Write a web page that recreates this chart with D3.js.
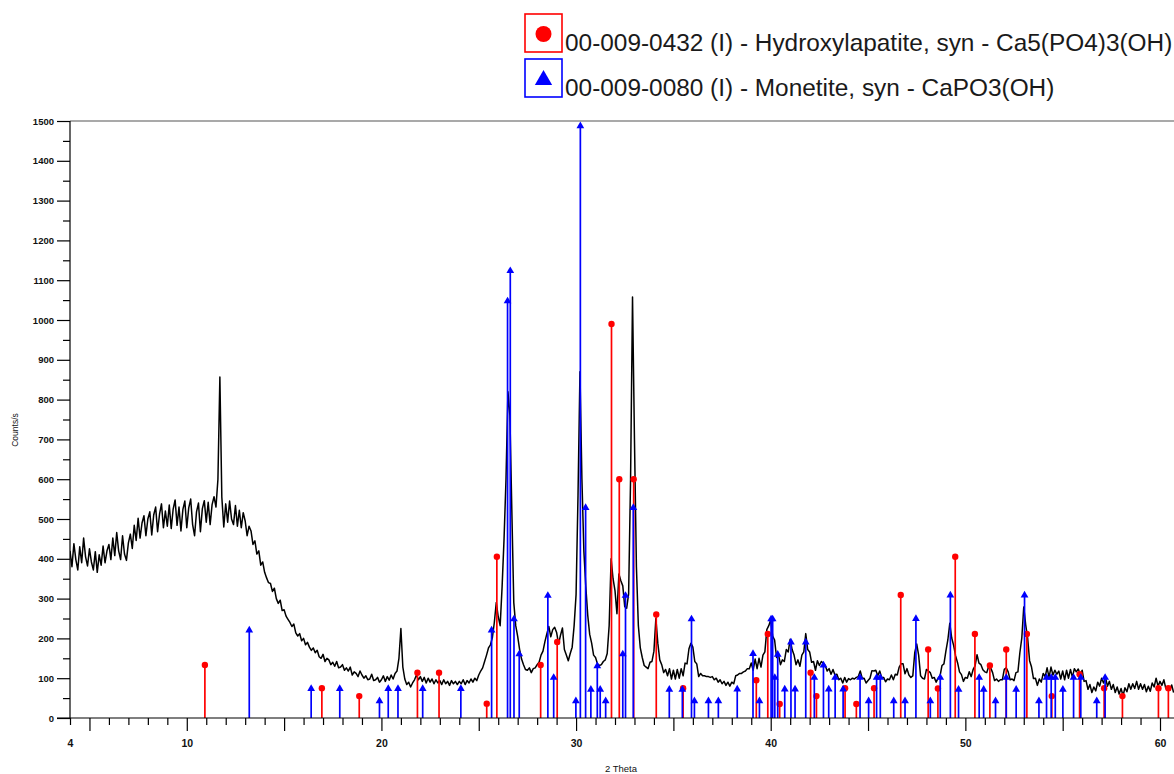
<!DOCTYPE html>
<html>
<head>
<meta charset="utf-8">
<script src="https://cdn.jsdelivr.net/npm/d3@7"></script>
<style>
  body { margin: 0; background: #fff; }
  svg { display: block; }
  text { font-family: "Liberation Sans", Arial, Helvetica, sans-serif; }
</style>
</head>
<body>
<svg id="chart" width="1174" height="774"></svg>
<script>
// Measured scan: counts every 0.1 degree 2-theta, starting at 4.0
const scanStart = 4.0;
const scanStep = 0.1;
const counts = [
  420, 380, 438, 398, 372, 430, 390, 452, 405, 382,   // 4
  425, 392, 372, 418, 366, 410, 384, 432, 390, 420,   // 5
  436, 398, 452, 408, 466, 420, 398, 458, 412, 396,   // 6
  440, 462, 426, 484, 446, 502, 452, 490, 508, 458,   // 7
  500, 518, 460, 510, 530, 468, 512, 538, 478, 520,   // 8
  482, 535, 476, 525, 548, 484, 530, 470, 524, 545,   // 9
  478, 528, 550, 486, 458, 518, 540, 468, 526, 546,   // 10
  492, 542, 486, 536, 556, 530, 600, 857, 555, 480,   // 11
  538, 492, 545, 500, 486, 534, 482, 522, 478, 516,   // 12
  495, 458, 482, 470, 436, 445, 412, 420, 384, 392,   // 13
  366, 352, 340, 338, 318, 326, 300, 288, 296, 270,   // 14
  272, 256, 248, 240, 230, 236, 214, 206, 212, 194,   // 15
  200, 184, 190, 178, 170, 176, 164, 170, 154, 150,   // 16
  160, 142, 150, 146, 134, 140, 130, 142, 126, 128,   // 17
  134, 120, 126, 118, 128, 108, 116, 112, 104, 118,   // 18
  108, 100, 106,  96,  98, 110,  94,  96, 102,  90,   // 19
   96, 106,  92, 104,  95, 108,  98, 112, 118, 150,   // 20
  225, 128,  98,  84,  90,  78,  88,  96, 108,  96,   // 21
  104,  92, 102,  88, 100,  90,  98,  86,  96,  88,   // 22
   94,  84,  96,  86,  92,  82,  94,  86,  92,  84,   // 23
   92,  86,  96,  84,  94,  88,  98,  90, 100,  94,   // 24
  108, 118, 126, 142, 158, 176, 184, 202, 240, 290,   // 25
  255, 232, 330, 450, 600, 820, 760, 520, 290, 232,   // 26
  205, 172, 148, 134, 122, 120, 126, 114, 124, 126,   // 27
  134, 140, 158, 168, 192, 212, 230, 204, 222, 228,   // 28
  215, 186, 208, 226, 172, 158, 144, 162, 178, 232,   // 29
  310, 560, 870, 600, 420, 330, 258, 210, 188, 158,   // 30
  152, 136, 132, 134, 142, 146, 162, 232, 400, 350,   // 31
  320, 262, 362, 345, 332, 280, 276, 312, 600, 1058,  // 32
  700, 380, 232, 176, 152, 132, 128, 124, 140, 142,   // 33
  168, 250, 188, 146, 134, 114, 122, 106, 124,  98,   // 34
  120,  98, 122, 100, 124, 106, 138, 136, 174, 188,   // 35
  178, 142, 136, 104, 112, 106, 106, 104, 104, 102,   // 36
  104,  96, 100,  90,  96,  86,  92,  82,  90,  80,   // 37
   90,  86, 106, 108, 112, 112, 116, 118, 124, 124,   // 38
  138, 120, 148, 124, 150, 128, 158, 166, 222, 232,   // 39
  246, 206, 196, 152, 160, 134, 146, 142, 172, 166,   // 40
  198, 172, 158, 134, 146, 130, 158, 166, 212, 172,   // 41
  166, 140, 142, 120, 144, 132, 142, 138, 132, 118,   // 42
  124, 110, 122, 108, 110,  96, 100,  88, 102,  90,   // 43
   99,  96, 100,  98, 102, 104, 118, 100, 100,  88,   // 44
   94, 100, 119, 118, 120, 106, 118, 102, 102,  91,   // 45
   98,  96, 108,  96, 110, 108, 128, 136, 136, 111,   // 46
  124, 108, 102, 106, 164, 186, 158, 106, 100,  98,   // 47
  122, 118, 114, 100, 102,  90, 100, 106, 132, 136,   // 48
  168, 196, 238, 201, 182, 156, 139, 116, 109,  92,   // 49
  102, 100, 116, 104, 122, 131, 159, 138, 134, 121,   // 50
  116, 114, 130, 126, 114,  94,  98,  92,  96,  96,   // 51
  122, 126, 116,  96,  98,  94, 114, 116, 164, 201,   // 52
  279, 234, 201, 144, 128,  99, 100,  82,  98,  90,   // 53
  112, 104, 126, 102, 128, 108, 120, 110, 118,  98,   // 54
  118,  96, 120, 100, 122, 102, 124, 116, 123, 110,   // 55
  120,  92,  94,  72,  84,  64,  78,  68,  90,  80,   // 56
  100,  88, 102,  80,  92,  72,  84,  64,  78,  60,   // 57
   74,  56,  76,  66,  86,  72,  86,  74,  92,  72,   // 58
   86,  72,  84,  66,  80,  67,  88,  78, 100,  80,   // 59
   92,  82,  96,  74,  78,  70,  83,  64               // 60
];

// Reference pattern 00-009-0432: Hydroxylapatite
const hapAngles = [10.93, 16.94, 18.86, 21.85, 22.96, 25.41, 25.93, 28.18, 29.03, 31.82,
  32.22, 32.96, 34.12, 35.50, 39.26, 39.85, 40.46, 42.05, 42.35, 43.82,
  44.40, 45.31, 46.68, 48.09, 48.59, 49.48, 50.49, 51.26, 52.10, 53.16,
  54.44, 55.87, 57.13, 58.07, 59.92, 60.43];
const hapIntensities = [133, 75, 55, 114, 114, 36, 405, 133, 191, 990,
  600, 600, 260, 75, 95, 211, 35, 114, 55, 75,
  35, 75, 309, 172, 74, 405, 211, 132, 172, 211,
  55, 110, 75, 55, 75, 75];

// Reference pattern 00-009-0080: Monetite
const monAngles = [13.21, 16.39, 17.86, 19.90, 20.35, 20.85, 22.12, 24.08, 25.66, 26.48,
  26.62, 26.81, 27.08, 28.55, 28.85, 29.99, 30.22, 30.49, 30.76, 31.09,
  31.24, 31.52, 32.40, 32.54, 32.94, 34.79, 35.46, 35.93, 36.08, 36.80,
  37.31, 38.28, 39.09, 39.42, 40.02, 40.10, 40.21, 40.36, 40.72, 41.04,
  41.25, 41.80, 42.24, 42.71, 42.98, 43.31, 43.72, 44.59, 45.03, 45.44,
  45.63, 46.32, 46.90, 47.46, 48.20, 48.71, 49.23, 49.65, 50.71, 50.94,
  51.55, 52.10, 52.61, 53.04, 53.78, 54.17, 54.41, 54.62, 55.01, 55.56,
  55.93, 56.75, 57.18];
const monIntensities = [223, 76, 76, 45, 76, 76, 76, 76, 223, 1050,
  1126, 251, 163, 310, 104, 45, 1490, 531, 74, 133,
  74, 45, 163, 310, 531, 74, 74, 251, 45, 45,
  45, 75, 164, 45, 251, 251, 104, 162, 75, 193,
  75, 193, 104, 135, 75, 104, 75, 104, 45, 104,
  104, 45, 45, 252, 45, 104, 311, 74, 104, 74,
  45, 104, 74, 311, 45, 104, 104, 104, 74, 104,
  104, 45, 104];

const xTickLabels = [4, 10, 20, 30, 40, 50, 60];
const yTickLabels = [0, 100, 200, 300, 400, 500, 600, 700, 800, 900, 1000, 1100, 1200, 1300, 1400, 1500];
const legendLabels = [
  "00-009-0432 (I) - Hydroxylapatite, syn - Ca5(PO4)3(OH)",
  "00-009-0080 (I) - Monetite, syn - CaPO3(OH)"
];
const xTitle = "2 Theta";
const yTitle = "Counts/s";

const RED = "#ff0000", BLUE = "#0000ff";

const svg = d3.select("#chart");
const W = 1174;
const plotLeft = 70, plotTop = 121, plotBottom = 718;

const x = d3.scaleLinear().domain([4, 60]).range([plotLeft, 1160]);
const y = d3.scaleLinear().domain([0, 1500]).range([plotBottom, plotTop]);

const plot = svg.append("g");
plot.append("clipPath").attr("id", "plotClip")
  .append("rect").attr("x", plotLeft).attr("y", 0).attr("width", W - plotLeft).attr("height", plotBottom + 1);

// top frame line at 1500
plot.append("line")
  .attr("x1", plotLeft).attr("x2", W).attr("y1", y(1500)).attr("y2", y(1500))
  .attr("stroke", "#555").attr("stroke-width", 1.2);

// diffractogram
const scan = counts.map((c, i) => [scanStart + i * scanStep, c]);
const line = d3.line().x(d => x(d[0])).y(d => y(d[1]));
plot.append("path")
  .datum(scan)
  .attr("clip-path", "url(#plotClip)")
  .attr("d", line)
  .attr("fill", "none")
  .attr("stroke", "#000")
  .attr("stroke-width", 1.5)
  .attr("stroke-linejoin", "round");

// reference sticks
function sticks(angles, vals, color, marker) {
  const g = plot.append("g").attr("clip-path", "url(#plotClip)");
  const data = angles.map((a, i) => ({ a, v: vals[i] }));
  g.selectAll("line").data(data).join("line")
    .attr("x1", d => x(d.a)).attr("x2", d => x(d.a))
    .attr("y1", y(0)).attr("y2", d => y(d.v))
    .attr("stroke", color).attr("stroke-width", 1.7);
  if (marker === "circle") {
    g.selectAll("circle").data(data).join("circle")
      .attr("cx", d => x(d.a)).attr("cy", d => y(d.v)).attr("r", 3.2)
      .attr("fill", color);
  } else {
    const tri = d3.symbol().type(d3.symbolTriangle).size(26);
    g.selectAll("path").data(data).join("path")
      .attr("transform", d => `translate(${x(d.a)},${y(d.v) + 1})`)
      .attr("d", tri).attr("fill", color);
  }
}
sticks(hapAngles, hapIntensities, RED, "circle");
sticks(monAngles, monIntensities, BLUE, "triangle");

// axes
const axisColor = "#000";
const yAxisMajor = d3.axisLeft(y).tickValues(yTickLabels).tickSize(13).tickFormat("");
const yAxisMinor = d3.axisLeft(y).tickValues(yTickLabels.slice(0, -1).map(v => v + 50)).tickSize(7).tickFormat("");
const yAxisLabels = d3.axisLeft(y).tickValues(yTickLabels).tickSize(0).tickPadding(16).tickFormat(d3.format("d"));

const gy = svg.append("g").attr("transform", `translate(${plotLeft},0)`);
gy.append("g").call(yAxisMajor);
gy.append("g").call(yAxisMinor).call(g => g.select(".domain").remove());
gy.append("g").call(yAxisLabels).call(g => g.select(".domain").remove());
gy.selectAll("path.domain").attr("stroke", axisColor).attr("stroke-width", 1.2).attr("d", `M0,${plotTop}V${plotBottom}`);
gy.selectAll("line").attr("stroke", axisColor).attr("stroke-width", 1.2);
gy.selectAll("text").attr("fill", "#111").attr("font-weight", "bold").attr("font-size", 9.5);

const degrees = d3.range(4, 61);
const xAxisMinor = d3.axisBottom(x).tickValues(degrees.filter(d => d % 5 !== 0)).tickSize(7).tickFormat("");
const xAxisMajor = d3.axisBottom(x).tickValues(degrees.filter(d => d % 5 === 0)).tickSize(13).tickFormat("");
const xAxisLabels = d3.axisBottom(x).tickValues(xTickLabels).tickSize(0).tickPadding(22).tickFormat(d3.format("d"));

const gx = svg.append("g").attr("transform", `translate(0,${plotBottom})`);
gx.append("g").call(xAxisMinor);
gx.append("g").call(xAxisMajor).call(g => g.select(".domain").remove());
gx.append("g").call(xAxisLabels).call(g => g.select(".domain").remove());
gx.selectAll("path.domain").attr("stroke", axisColor).attr("stroke-width", 1.2).attr("d", `M57,0H${W}`);
gx.selectAll("line").attr("stroke", axisColor).attr("stroke-width", 1.2);
gx.selectAll("text").attr("fill", "#111").attr("font-weight", "bold").attr("font-size", 10.5);

// axis titles
svg.append("text")
  .attr("x", 621).attr("y", 772)
  .attr("text-anchor", "middle").attr("font-size", 9.5).attr("fill", "#111")
  .text(xTitle);
svg.append("text")
  .attr("transform", `translate(18,430) rotate(-90)`)
  .attr("text-anchor", "middle").attr("font-size", 8.5).attr("fill", "#111")
  .text(yTitle);

// legend
const legend = svg.append("g");
const rows = [
  { label: legendLabels[0], color: RED, y0: 14, marker: "circle" },
  { label: legendLabels[1], color: BLUE, y0: 59, marker: "triangle" }
];
rows.forEach(r => {
  legend.append("rect")
    .attr("x", 525).attr("y", r.y0).attr("width", 37).attr("height", 38)
    .attr("fill", "#fff").attr("stroke", r.color).attr("stroke-width", 1.6);
  if (r.marker === "circle") {
    legend.append("circle").attr("cx", 543.5).attr("cy", r.y0 + 20).attr("r", 8).attr("fill", r.color);
  } else {
    legend.append("path")
      .attr("transform", `translate(543.5,${r.y0 + 21})`)
      .attr("d", d3.symbol().type(d3.symbolTriangle).size(130)).attr("fill", r.color);
  }
  legend.append("text")
    .attr("x", 565).attr("y", r.y0 + 37)
    .attr("font-size", 24.4).attr("fill", "#1a1a1a")
    .text(r.label);
});
</script>
</body>
</html>
